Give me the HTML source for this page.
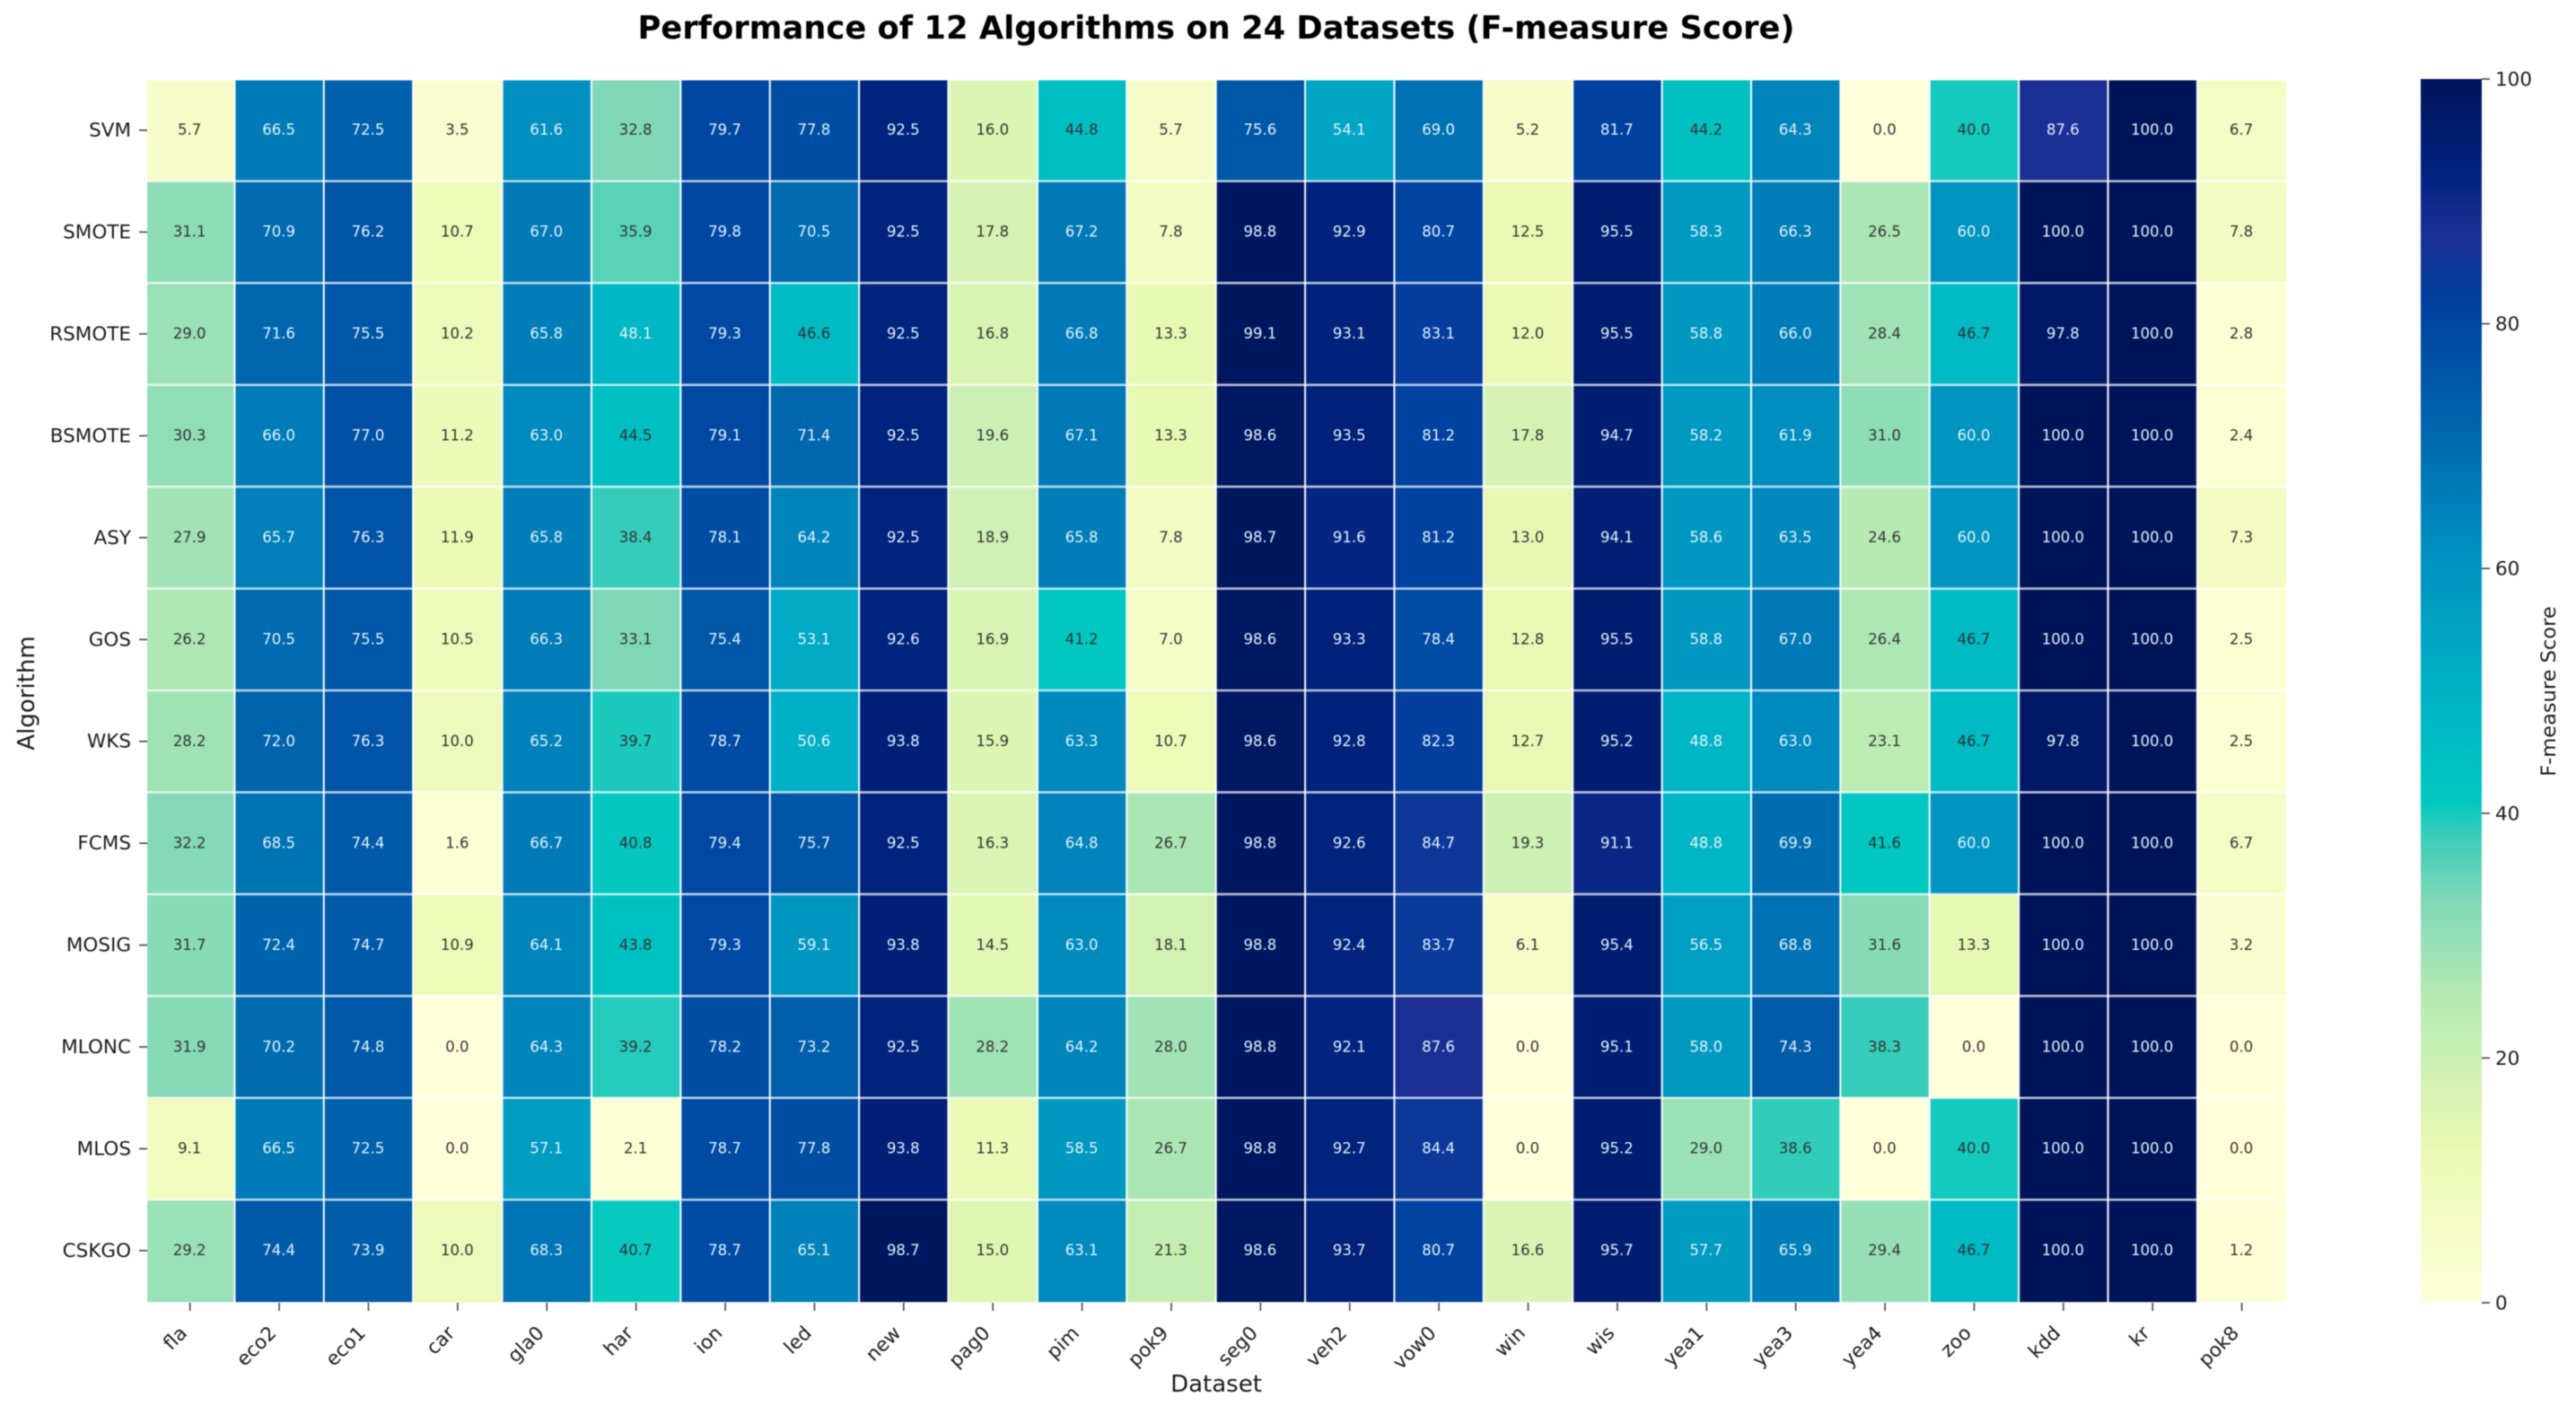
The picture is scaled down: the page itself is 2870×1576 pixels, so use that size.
<!DOCTYPE html>
<html lang="en">
<head>
<meta charset="utf-8">
<title>Performance of 12 Algorithms on 24 Datasets</title>
<style>
html,body{margin:0;padding:0;background:#fff;}
svg{display:block;font-family:"DejaVu Sans","Liberation Sans",sans-serif;}
#plot{filter:blur(0.55px);}
</style>
</head>
<body>
<svg id="chart" width="2870" height="1576" viewBox="0 0 2870 1576" xmlns="http://www.w3.org/2000/svg">
<defs>
<linearGradient id="cbar-gradient" x1="0" y1="1" x2="0" y2="0"></linearGradient>
<clipPath id="heat-clip"><rect x="164" y="89.5" width="2383" height="1361.5"></rect></clipPath>
</defs>
<g id="plot">
<text x="1355" y="43" text-anchor="middle" font-size="35.3" font-weight="bold" fill="#000">Performance of 12 Algorithms on 24 Datasets (F-measure Score)</text>
<g id="cells" clip-path="url(#heat-clip)"></g>
<g id="grid" clip-path="url(#heat-clip)"></g>
<g id="annots"></g>
<g id="xaxis"></g>
<g id="yaxis"></g>
<text x="1355" y="1550" text-anchor="middle" font-size="26" fill="#1a1a1a">Dataset</text>
<text transform="translate(38 772) rotate(-90)" text-anchor="middle" font-size="26" fill="#1a1a1a">Algorithm</text>
<rect x="2697" y="88" width="68" height="1363" fill="url(#cbar-gradient)"></rect>
<g id="cbar-axis"></g>
<text transform="translate(2847 770) rotate(-90)" text-anchor="middle" font-size="22.5" fill="#1a1a1a">F-measure Score</text>
</g>
</svg>
<script>
const algorithms = ["SVM","SMOTE","RSMOTE","BSMOTE","ASY","GOS","WKS","FCMS","MOSIG","MLONC","MLOS","CSKGO"];
const datasets = ["fla","eco2","eco1","car","gla0","har","ion","led","new","pag0","pim","pok9","seg0","veh2","vow0","win","wis","yea1","yea3","yea4","zoo","kdd","kr","pok8"];
const scoresSVM = [5.7,66.5,72.5,3.5,61.6,32.8,79.7,77.8,92.5,16.0,44.8,5.7,75.6,54.1,69.0,5.2,81.7,44.2,64.3,0.0,40.0,87.6,100.0,6.7];
const scoresSMOTE = [31.1,70.9,76.2,10.7,67.0,35.9,79.8,70.5,92.5,17.8,67.2,7.8,98.8,92.9,80.7,12.5,95.5,58.3,66.3,26.5,60.0,100.0,100.0,7.8];
const scoresRSMOTE = [29.0,71.6,75.5,10.2,65.8,48.1,79.3,46.6,92.5,16.8,66.8,13.3,99.1,93.1,83.1,12.0,95.5,58.8,66.0,28.4,46.7,97.8,100.0,2.8];
const scoresBSMOTE = [30.3,66.0,77.0,11.2,63.0,44.5,79.1,71.4,92.5,19.6,67.1,13.3,98.6,93.5,81.2,17.8,94.7,58.2,61.9,31.0,60.0,100.0,100.0,2.4];
const scoresASY = [27.9,65.7,76.3,11.9,65.8,38.4,78.1,64.2,92.5,18.9,65.8,7.8,98.7,91.6,81.2,13.0,94.1,58.6,63.5,24.6,60.0,100.0,100.0,7.3];
const scoresGOS = [26.2,70.5,75.5,10.5,66.3,33.1,75.4,53.1,92.6,16.9,41.2,7.0,98.6,93.3,78.4,12.8,95.5,58.8,67.0,26.4,46.7,100.0,100.0,2.5];
const scoresWKS = [28.2,72.0,76.3,10.0,65.2,39.7,78.7,50.6,93.8,15.9,63.3,10.7,98.6,92.8,82.3,12.7,95.2,48.8,63.0,23.1,46.7,97.8,100.0,2.5];
const scoresFCMS = [32.2,68.5,74.4,1.6,66.7,40.8,79.4,75.7,92.5,16.3,64.8,26.7,98.8,92.6,84.7,19.3,91.1,48.8,69.9,41.6,60.0,100.0,100.0,6.7];
const scoresMOSIG = [31.7,72.4,74.7,10.9,64.1,43.8,79.3,59.1,93.8,14.5,63.0,18.1,98.8,92.4,83.7,6.1,95.4,56.5,68.8,31.6,13.3,100.0,100.0,3.2];
const scoresMLONC = [31.9,70.2,74.8,0.0,64.3,39.2,78.2,73.2,92.5,28.2,64.2,28.0,98.8,92.1,87.6,0.0,95.1,58.0,74.3,38.3,0.0,100.0,100.0,0.0];
const scoresMLOS = [9.1,66.5,72.5,0.0,57.1,2.1,78.7,77.8,93.8,11.3,58.5,26.7,98.8,92.7,84.4,0.0,95.2,29.0,38.6,0.0,40.0,100.0,100.0,0.0];
const scoresCSKGO = [29.2,74.4,73.9,10.0,68.3,40.7,78.7,65.1,98.7,15.0,63.1,21.3,98.6,93.7,80.7,16.6,95.7,57.7,65.9,29.4,46.7,100.0,100.0,1.2];
const colorbarTicks = [0,20,40,60,80,100];
const colorStopValues = [0,12.5,25,33,38,41,50,62.5,75,82,87.5,92.5,100];
const colorStopHex = ["#ffffd9","#eaf9b3","#b5eab3","#7fd8b8","#3dcdb9","#00c8c0","#00b2c6","#008cbe","#0058a8","#003f9f","#1c2e94","#00237e","#00145a"];

const scoreRows = [scoresSVM,scoresSMOTE,scoresRSMOTE,scoresBSMOTE,scoresASY,scoresGOS,scoresWKS,scoresFCMS,scoresMOSIG,scoresMLONC,scoresMLOS,scoresCSKGO];
const SVGNS = "http://www.w3.org/2000/svg";

function xEdge(i){ return 162 + 99.39 * i; }
function xCenter(i){ return xEdge(i) + 99.39 / 2; }
function yEdge(r){ return 88.3 + 113.45 * r; }
function yCenter(r){ return yEdge(r) + 113.45 / 2; }
function cbarY(v){ return 1451 - 13.63 * v; }

function hexToRgb(h){ return [1,3,5].map(function(p){ return parseInt(h.substr(p,2),16); }); }
function colorFor(v){
  let k = 0;
  while (k < colorStopValues.length - 2 && v > colorStopValues[k + 1]) k++;
  const t = Math.max(0, Math.min(1, (v - colorStopValues[k]) / (colorStopValues[k + 1] - colorStopValues[k])));
  const a = hexToRgb(colorStopHex[k]);
  const b = hexToRgb(colorStopHex[k + 1]);
  return "rgb(" + a.map(function(c, n){ return Math.round(c + (b[n] - c) * t); }).join(",") + ")";
}
function make(tag, attrs, parent, text){
  const el = document.createElementNS(SVGNS, tag);
  for (const key in attrs) el.setAttribute(key, attrs[key]);
  if (text !== undefined) el.textContent = text;
  parent.appendChild(el);
  return el;
}

const cellsG = document.getElementById("cells");
const annotsG = document.getElementById("annots");
const gridG = document.getElementById("grid");
const xaxisG = document.getElementById("xaxis");
const yaxisG = document.getElementById("yaxis");
const cbarAxisG = document.getElementById("cbar-axis");
const gradient = document.getElementById("cbar-gradient");

colorStopValues.forEach(function(v, k){
  make("stop", {offset: (v / 100 * 100) + "%", "stop-color": colorStopHex[k]}, gradient);
});

scoreRows.forEach(function(row, r){
  row.forEach(function(v, c){
    const cell = make("rect", {x: xEdge(c), y: yEdge(r), width: 99.39 + 0.5, height: 113.45 + 0.5, fill: colorFor(v)}, cellsG);
    
    
    const label = make("text", {x: xCenter(c) - 0.5, y: yCenter(r) + 5.2, "text-anchor": "middle", "font-size": 16.5, fill: v > 47.5 ? "#e4f3fa" : "#333333"}, annotsG, v.toFixed(1));
    
    
  });
});

for (let c = 1; c < datasets.length; c++) {
  const vLine = make("line", {x1: xEdge(c), x2: xEdge(c), y1: 88, y2: 1452, stroke: "#fff", "stroke-width": 2.2, "stroke-opacity": 0.9}, gridG);
  
  
}
for (let r = 1; r < algorithms.length; r++) {
  const hLine = make("line", {x1: 162, x2: 2548, y1: yEdge(r), y2: yEdge(r), stroke: "#fff", "stroke-width": 2.6, "stroke-opacity": 0.72}, gridG);
  
  
}

datasets.forEach(function(name, c){
  const cx = xCenter(c);
  const tick = make("line", {x1: cx, x2: cx, y1: 1451, y2: 1460, stroke: "#444", "stroke-width": 1.6}, xaxisG);
  
  
  const label = make("text", {transform: "translate(" + (cx - 2) + " 1486) rotate(-45)", "text-anchor": "end", "font-size": 21.5, fill: "#1a1a1a"}, xaxisG, name);
  
  
});

algorithms.forEach(function(name, r){
  const cy = yCenter(r);
  const tick = make("line", {x1: 155, x2: 164, y1: cy, y2: cy, stroke: "#444", "stroke-width": 1.6}, yaxisG);
  
  
  const label = make("text", {x: 146, y: cy + 7, "text-anchor": "end", "font-size": 21.5, fill: "#1a1a1a"}, yaxisG, name);
  
  
});

colorbarTicks.forEach(function(v){
  const y = cbarY(v);
  const tick = make("line", {x1: 2765, x2: 2774, y1: y, y2: y, stroke: "#444", "stroke-width": 1.6}, cbarAxisG);
  
  
  const label = make("text", {x: 2780, y: y + 7.5, "font-size": 21.5, fill: "#1a1a1a"}, cbarAxisG, String(v));
  
  
});
</script>
</body>
</html>
